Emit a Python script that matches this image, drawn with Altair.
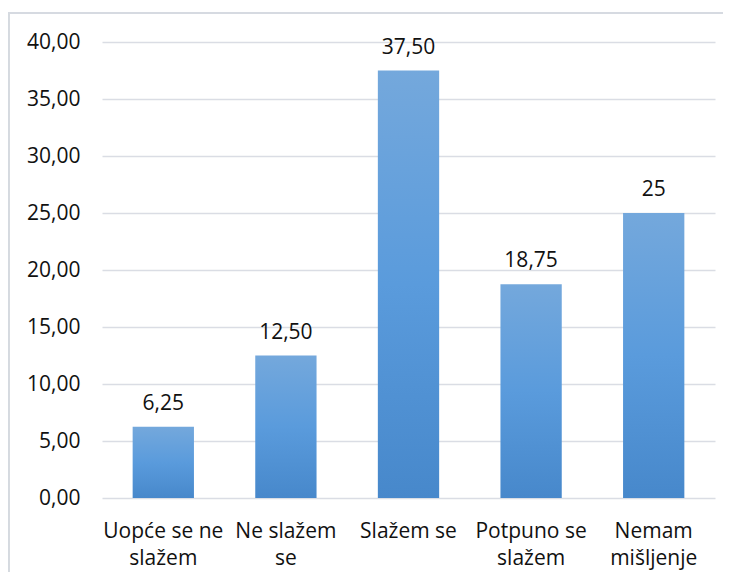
import altair as alt
import pandas as pd

categories = ["Uopće se ne|slažem", "Ne slažem|se", "Slažem se", "Potpuno se|slažem", "Nemam|mišljenje"]
values = [6.25, 12.50, 37.50, 18.75, 25]
value_labels = ["6,25", "12,50", "37,50", "18,75", "25"]
y_ticks = [0, 5, 10, 15, 20, 25, 30, 35, 40]

df = pd.DataFrame({"cat": categories, "val": values, "lbl": value_labels})

FONT = "Open Sans"
FS = 21
W, H = 613, 456

gradient = alt.Gradient(
    gradient="linear",
    stops=[
        alt.GradientStop(color="#74a8dc", offset=0),
        alt.GradientStop(color="#5a9bdc", offset=0.5),
        alt.GradientStop(color="#4788cb", offset=1),
    ],
    x1=1, x2=1, y1=0, y2=1,
)

x_enc = alt.X(
    "cat:N",
    sort=categories,
    scale=alt.Scale(paddingInner=0.5, paddingOuter=0.25),
    axis=alt.Axis(
        title=None,
        labelAngle=0,
        labelExpr="split(datum.label, '|')",
        labelFont=FONT,
        labelFontSize=FS,
        labelColor="#111111",
        labelPadding=22,
        labelLineHeight=27,
        domain=False,
        ticks=False,
        grid=False,
    ),
)
y_enc = alt.Y(
    "val:Q",
    scale=alt.Scale(domain=[0, 40], nice=False),
    axis=alt.Axis(
        title=None,
        values=y_ticks,
        labelExpr="replace(format(datum.value, '.2f'), '.', ',')",
        labelFont=FONT,
        labelFontSize=FS,
        labelColor="#111111",
        labelPadding=22,
        domain=False,
        ticks=False,
        grid=True,
        gridColor="#dadde4",
        gridWidth=1.5,
    ),
)

bars = alt.Chart(df).mark_bar(color=gradient).encode(x=x_enc, y=y_enc)

texts = alt.Chart(df).mark_text(
    font=FONT, fontSize=FS, color="#111111", baseline="alphabetic", dy=-17
).encode(x=alt.X("cat:N", sort=categories), y="val:Q", text="lbl:N")

frame_top = alt.Chart(df).mark_rule(color="#d6dae0", strokeWidth=1.5).encode(
    x=alt.value(-94), x2=alt.value(720), y=alt.value(-29)
)
frame_left = alt.Chart(df).mark_rule(color="#d6dae0", strokeWidth=1.5).encode(
    x=alt.value(-93.2), y=alt.value(-29), y2=alt.value(600)
)

chart = (
    alt.layer(frame_top, frame_left, bars, texts)
    .properties(
        width=W,
        height=H,
        background="white",
        autosize=alt.AutoSizeParams(type="none"),
        padding={"left": 94, "top": 34, "right": 8, "bottom": 74},
    )
    .configure_view(strokeWidth=0, stroke="transparent")
)

chart.save("out.html", embed_options={"renderer": "svg", "actions": False})
